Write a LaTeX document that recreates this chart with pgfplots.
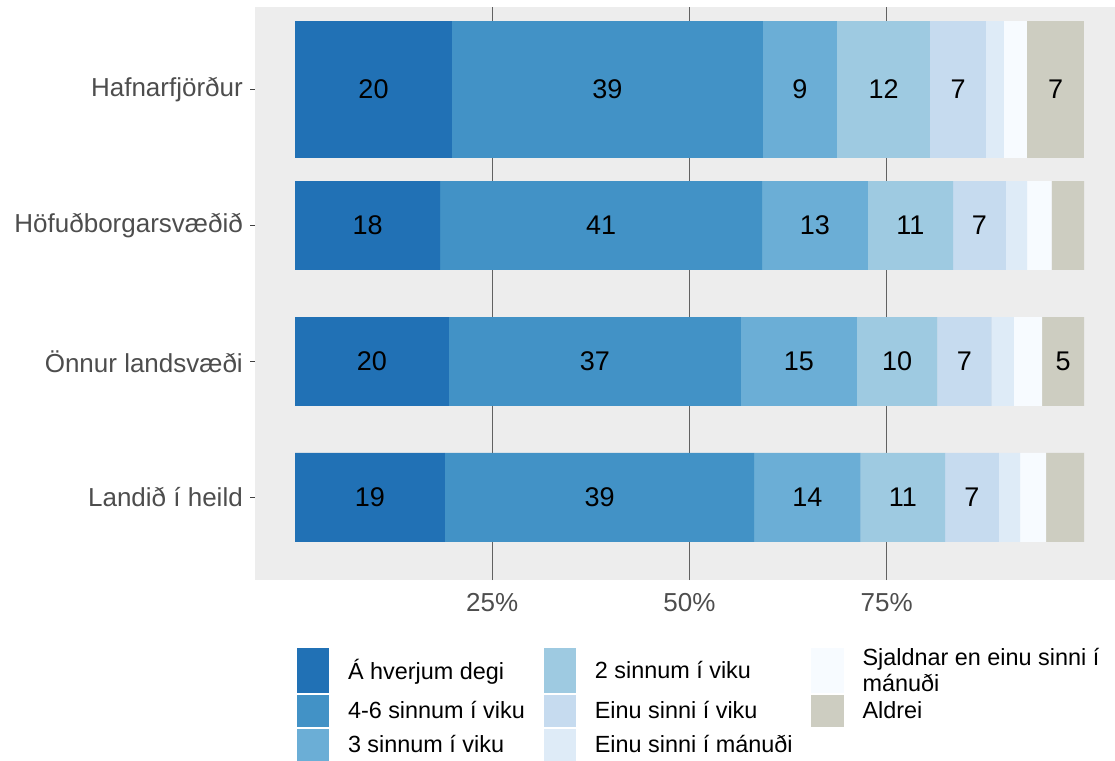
\documentclass[border=0pt]{standalone}
\usepackage{pgfplots}
\pgfplotsset{compat=1.18}
\usepackage{fontspec}
\setmainfont{Liberation Sans}
\definecolor{c1}{HTML}{2171B5}
\definecolor{c2}{HTML}{4292C6}
\definecolor{c3}{HTML}{6BAED6}
\definecolor{c4}{HTML}{9ECAE1}
\definecolor{c5}{HTML}{C6DBEF}
\definecolor{c6}{HTML}{DEEBF7}
\definecolor{c7}{HTML}{F7FBFF}
\definecolor{c8}{HTML}{CDCDC1}
\definecolor{panel}{HTML}{EDEDED}
\definecolor{tickc}{HTML}{4D4D4D}
\pgfplotsset{
  common/.style={
    scale only axis, width=860pt, height=573pt,
    at={(255pt,180pt)}, anchor=south west,
    xmin=-5.07, xmax=103.93, ymin=-0.607, ymax=3.607,
    enlargelimits=false,
  },
  key/.style 2 args={legend image code/.code={\fill[#1] (0pt,-#2) rectangle (32.6pt,#2);}},
}
\begin{document}
\begin{tikzpicture}
\useasboundingbox (0,0) rectangle (1115pt,760pt);
% three lower categories
\begin{axis}[common,
  xbar stacked, bar width=0.654,
  axis background/.style={fill=panel},
  separate axis lines, axis x line*=bottom, axis y line*=left,
  axis line style={draw=none},
  xtick={25,50,75}, xticklabels={25\%,50\%,75\%},
  xmajorgrids, grid style={black!62, line width=1.2pt},
  xtick style={draw=none},
  ytick={0,1,2,3},
  yticklabels={Landið í heild,Önnur landsvæði,Höfuðborgarsvæðið,Hafnarfjörður},
  ytick style={draw=black!75, line width=1.1pt},
  tick align=outside, major tick length=5pt,
  xticklabel style={font=\fontsize{26}{30}\selectfont, text=tickc, inner sep=0pt, yshift=-8pt},
  yticklabel style={font=\fontsize{26}{30}\selectfont, text=tickc, inner sep=0pt, xshift=-7pt},
  legend columns=3, transpose legend,
  legend cell align=left,
  legend style={at={(0.04849,-0.11867)}, anchor=north west, draw=none, fill=none,
    inner sep=0pt, outer sep=0pt,
    /tikz/column sep=18.7pt, /tikz/row sep=2pt,
    cells={align=left},
    nodes={inner sep=0pt, outer sep=0pt, font=\fontsize{23.4}{26}\selectfont, text=black}},
]
\addplot[fill=c1, draw=none, key={c1}{22.35pt}] coordinates {(19.0,0) (19.5,1) (18.4,2)};
\addlegendentry{Á hverjum degi}
\addplot[fill=c2, draw=none, key={c2}{16pt}] coordinates {(39.2,0) (37.0,1) (40.8,2)};
\addlegendentry{4-6 sinnum í viku}
\addplot[fill=c3, draw=none, key={c3}{16pt}] coordinates {(13.5,0) (14.7,1) (13.4,2)};
\addlegendentry{3 sinnum í viku}
\addplot[fill=c4, draw=none, key={c4}{22.35pt}] coordinates {(10.7,0) (10.2,1) (10.8,2)};
\addlegendentry{2 sinnum í viku}
\addplot[fill=c5, draw=none, key={c5}{16pt}] coordinates {(6.8,0) (6.9,1) (6.7,2)};
\addlegendentry{Einu sinni í viku}
\addplot[fill=c6, draw=none, key={c6}{16pt}] coordinates {(2.7,0) (2.8,1) (2.7,2)};
\addlegendentry{Einu sinni í mánuði}
\addplot[fill=c7, draw=none, key={c7}{22.35pt}] coordinates {(3.3,0) (3.6,1) (3.1,2)};
\addlegendentry{Sjaldnar en einu sinni í\\mánuði}
\addplot[fill=c8, draw=none, key={c8}{16pt}] coordinates {(4.8,0) (5.3,1) (4.1,2)};
\addlegendentry{Aldrei}
\end{axis}
% Hafnarfjordur (wider bar)
\begin{axis}[common, hide axis, xbar stacked, bar width=1.007]
\addplot[fill=c1, draw=none] coordinates {(19.9,3)};
\addplot[fill=c2, draw=none] coordinates {(39.4,3)};
\addplot[fill=c3, draw=none] coordinates {(9.4,3)};
\addplot[fill=c4, draw=none] coordinates {(11.8,3)};
\addplot[fill=c5, draw=none] coordinates {(7.1,3)};
\addplot[fill=c6, draw=none] coordinates {(2.3,3)};
\addplot[fill=c7, draw=none] coordinates {(2.9,3)};
\addplot[fill=c8, draw=none] coordinates {(7.2,3)};
\end{axis}
% value labels
\begin{axis}[common, hide axis, clip=false]
\addplot[only marks, mark=none, nodes near coords, point meta=explicit symbolic,
  every node near coord/.style={anchor=center, inner sep=0pt, text=black, font=\fontsize{27}{30}\selectfont}]
  table[x=x, y=y, meta=lab] {
x y lab
9.5 0 19
38.6 0 39
64.95 0 14
77.05 0 11
85.8 0 7
9.75 1 20
38.0 1 37
63.85 1 15
76.3 1 10
84.85 1 7
97.35 1 5
9.2 2 18
38.8 2 41
65.9 2 13
78.0 2 11
86.75 2 7
9.95 3 20
39.6 3 39
64.0 3 9
74.6 3 12
84.05 3 7
96.4 3 7
};
\end{axis}
\end{tikzpicture}
\end{document}
